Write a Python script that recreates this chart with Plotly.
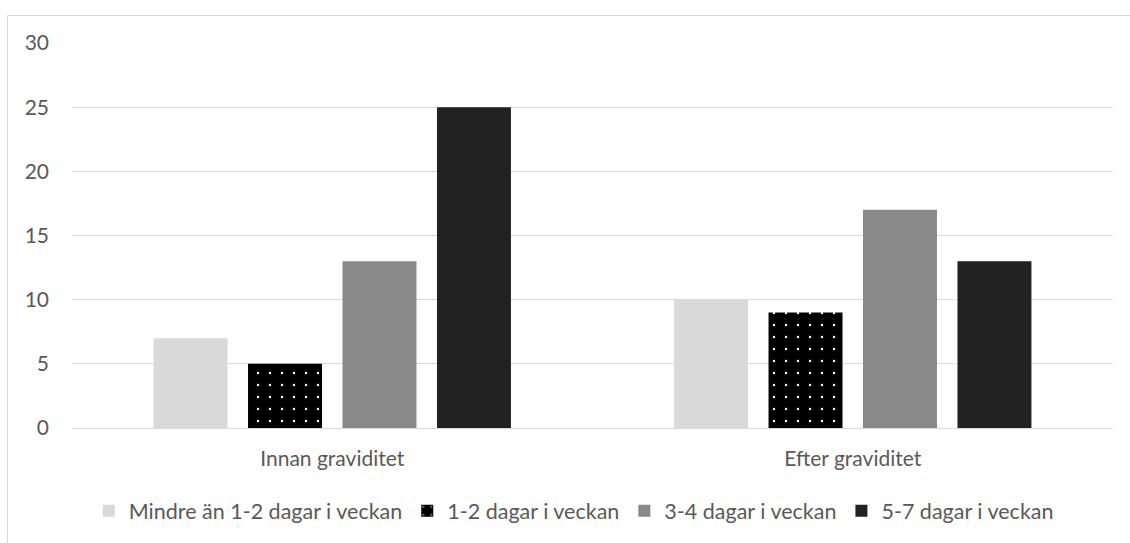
import plotly.graph_objects as go

categories = ["Innan graviditet", "Efter graviditet"]
series_names = [
    "Mindre än 1-2 dagar i veckan",
    "1-2 dagar i veckan",
    "3-4 dagar i veckan",
    "5-7 dagar i veckan",
]
values_mindre = [7, 10]
values_1_2 = [5, 9]
values_3_4 = [13, 17]
values_5_7 = [25, 13]
y_ticks = [0, 5, 10, 15, 20, 25, 30]

series_values = [values_mindre, values_1_2, values_3_4, values_5_7]
fill_colors = ["#d9d9d9", "#000000", "#898989", "#222222"]

FONT = "Lato"
TEXT = "#595959"
FS = 21

fig = go.Figure()
for i, (name, vals, col) in enumerate(zip(series_names, series_values, fill_colors)):
    marker = dict(color=col, line=dict(width=0))
    if i == 1:
        marker["pattern"] = dict(shape=".", bgcolor="#000000", fgcolor="#ffffff",
                                 fgopacity=1, size=12, solidity=0.03, fillmode="replace")
    fig.add_trace(go.Bar(name=name, x=categories, y=vals, marker=marker))

fig.update_layout(
    width=1130, height=543,
    barmode="group", bargap=0.274, bargroupgap=0.217,
    paper_bgcolor="#ffffff", plot_bgcolor="#ffffff",
    margin=dict(l=72, r=17, t=43, b=115),
    font=dict(family=FONT, size=FS, color=TEXT),
    showlegend=True,
    legend=dict(orientation="h", x=0.482, xanchor="center", y=-0.215, yanchor="middle",
                font=dict(family=FONT, size=21.5, color=TEXT), itemwidth=30,
                traceorder="normal"),
    xaxis=dict(showgrid=False, showline=False, zeroline=False, ticks="",
               ticklabelstandoff=16, tickfont=dict(size=FS, color=TEXT)),
    yaxis=dict(range=[0, 30], tickvals=y_ticks, showgrid=True, gridcolor="#d9d9d9",
               gridwidth=1, zeroline=True, zerolinecolor="#d9d9d9", zerolinewidth=1,
               showline=False, ticks="", ticklabelstandoff=22,
               tickfont=dict(size=FS, color=TEXT)),
    shapes=[dict(type="rect", xref="paper", yref="paper",
                 x0=-0.062, x1=1.2, y0=-0.6, y1=1.0714,
                 line=dict(color="#d9d9d9", width=1), fillcolor="rgba(0,0,0,0)",
                 layer="below")],
)

fig.write_html("out.html")
